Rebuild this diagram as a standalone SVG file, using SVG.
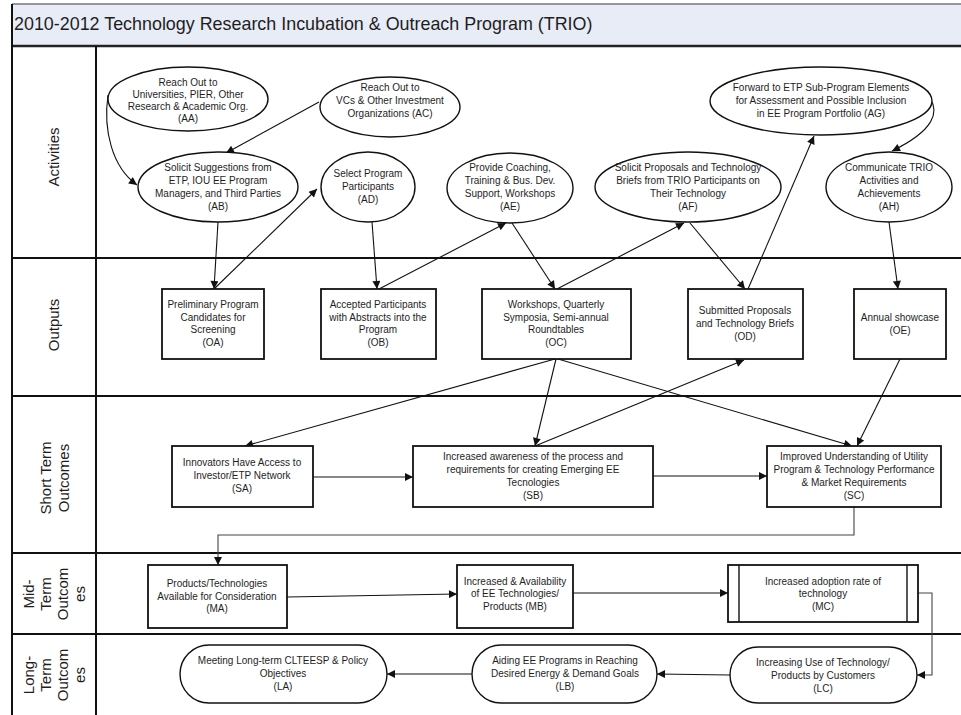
<svg xmlns="http://www.w3.org/2000/svg" width="961" height="715" viewBox="0 0 961 715">
<defs>
<style>
text{font-family:"Liberation Sans",Arial,sans-serif;fill:#1e1e1e;}
.t{font-size:10px;text-anchor:middle;}
.lane{font-size:15px;text-anchor:middle;dominant-baseline:central;}
.n{fill:#fff;stroke:#111;stroke-width:1.4;}
.b{fill:#fff;stroke:#111;stroke-width:1.8;}
.frame{stroke:#111;stroke-width:2;fill:none;}
.e{fill:none;stroke:#111;stroke-width:1.1;marker-end:url(#a);}
.g{fill:none;stroke:#444;stroke-width:1.1;marker-end:url(#a);}
</style>
<marker id="a" viewBox="0 0 10 10" refX="10" refY="5" markerWidth="11" markerHeight="8" markerUnits="userSpaceOnUse" orient="auto"><path d="M0,0 L10,5 L0,10 z" fill="#111"/></marker>
</defs>
<rect x="0" y="0" width="961" height="715" fill="#fff"/>
<g id="frame">
<rect x="12" y="4" width="960" height="42" fill="#e8ecf6"/>
<line x1="12" y1="4" x2="961" y2="4" stroke="#777" stroke-width="1.5"/>
<text x="14" y="30" style="font-size:17.9px">2010-2012 Technology Research Incubation &amp; Outreach Program (TRIO)</text>
<line x1="12" y1="46" x2="961" y2="46" stroke="#222" stroke-width="2.5"/>
<line class="frame" x1="12" y1="4" x2="12" y2="715"/>
<line class="frame" x1="96" y1="46" x2="96" y2="715"/>
<line class="frame" x1="12" y1="258" x2="961" y2="258"/>
<line class="frame" x1="12" y1="396" x2="961" y2="396"/>
<line class="frame" x1="12" y1="553" x2="961" y2="553"/>
<line class="frame" x1="12" y1="634" x2="961" y2="634"/>
<text class="lane" transform="translate(53,157) rotate(-90)">Activities</text>
<text class="lane" transform="translate(53,325) rotate(-90)">Outputs</text>
<text class="lane" transform="translate(45,478) rotate(-90)">Short Term</text>
<text class="lane" transform="translate(63,478) rotate(-90)">Outcomes</text>
<text class="lane" transform="translate(28,594) rotate(-90)">Mid-</text>
<text class="lane" transform="translate(45,594) rotate(-90)">Term</text>
<text class="lane" transform="translate(62,594) rotate(-90)">Outcom</text>
<text class="lane" transform="translate(79,594) rotate(-90)">es</text>
<text class="lane" transform="translate(28,675) rotate(-90)">Long-</text>
<text class="lane" transform="translate(45,675) rotate(-90)">Term</text>
<text class="lane" transform="translate(62,675) rotate(-90)">Outcom</text>
<text class="lane" transform="translate(79,675) rotate(-90)">es</text>
</g>
<g id="connectors">
<path class="e" d="M108,95 C103,130 112,167 137,185"/>
<path class="e" d="M319,102 L226,153"/>
<path class="e" d="M218,222 L214,289"/>
<path class="e" d="M214,289 L317,189"/>
<path class="e" d="M372,222 L377,289"/>
<path class="e" d="M379,289 L506,223"/>
<path class="e" d="M512,223 L555,289"/>
<path class="e" d="M557,289 L684,223"/>
<path class="e" d="M690,223 L745,289"/>
<path class="e" d="M748,289 L814,136"/>
<path class="e" d="M930,98 C939,112 935,130 892,151"/>
<path class="e" d="M889,222 L898,289"/>
<path class="e" d="M555,359 L245,446"/>
<path class="e" d="M556,359 L535,446"/>
<path class="e" d="M535,446 L744,360"/>
<path class="e" d="M558,359 L852,446"/>
<path class="e" d="M900,359 L857,446"/>
<path class="e" d="M313,477 L413,477"/>
<path class="e" d="M653,476 L767,476"/>
<path class="g" d="M854,507 L854,535 L218,535 L218,565"/>
<path class="e" d="M287,597 L457,594"/>
<path class="e" d="M573,593 L728,593"/>
<path class="g" d="M918,593 L932,593 L932,675 L917,675"/>
<path class="e" d="M730,675 L657,674"/>
<path class="e" d="M472,674 L387,674"/>
</g>
<g id="AA"><ellipse class="n" cx="188" cy="99" rx="80" ry="32"/>
<text class="t" x="188" y="86">Reach Out to</text><text class="t" x="188" y="98">Universities, PIER, Other</text><text class="t" x="188" y="110">Research &amp; Academic Org.</text><text class="t" x="188" y="122">(AA)</text></g>
<g id="AC"><ellipse class="n" cx="390" cy="107" rx="70" ry="30"/>
<text class="t" x="390" y="91">Reach Out to</text><text class="t" x="390" y="104">VCs &amp; Other Investment</text><text class="t" x="390" y="117">Organizations (AC)</text></g>
<g id="AB"><ellipse class="n" cx="218" cy="187" rx="80" ry="35"/>
<text class="t" x="218" y="171">Solicit Suggestions from</text><text class="t" x="218" y="184">ETP, IOU EE Program</text><text class="t" x="218" y="197">Managers, and Third Parties</text><text class="t" x="218" y="210">(AB)</text></g>
<g id="AD"><ellipse class="n" cx="368" cy="187" rx="47" ry="35"/>
<text class="t" x="368" y="177">Select Program</text><text class="t" x="368" y="190">Participants</text><text class="t" x="368" y="203">(AD)</text></g>
<g id="AE"><ellipse class="n" cx="510" cy="188" rx="63" ry="35"/>
<text class="t" x="510" y="171">Provide Coaching,</text><text class="t" x="510" y="184">Training &amp; Bus. Dev.</text><text class="t" x="510" y="197">Support, Workshops</text><text class="t" x="510" y="210">(AE)</text></g>
<g id="AF"><ellipse class="n" cx="688" cy="187" rx="93" ry="35"/>
<text class="t" x="688" y="171">Solicit Proposals and Technology</text><text class="t" x="688" y="184">Briefs from TRIO Participants on</text><text class="t" x="688" y="197">Their Technology</text><text class="t" x="688" y="210">(AF)</text></g>
<g id="AG"><ellipse class="n" cx="821" cy="101" rx="111" ry="34"/>
<text class="t" x="821" y="91">Forward to ETP Sub-Program Elements</text><text class="t" x="821" y="104">for Assessment and Possible Inclusion</text><text class="t" x="821" y="117">in EE Program Portfolio (AG)</text></g>
<g id="AH"><ellipse class="n" cx="889" cy="187" rx="63" ry="35"/>
<text class="t" x="889" y="171">Communicate TRIO</text><text class="t" x="889" y="184">Activities and</text><text class="t" x="889" y="197">Achievements</text><text class="t" x="889" y="210">(AH)</text></g>
<g id="OA"><rect class="b" x="162" y="289" width="102" height="70"/>
<text class="t" x="213" y="308">Preliminary Program</text><text class="t" x="213" y="321">Candidates for</text><text class="t" x="213" y="333">Screening</text><text class="t" x="213" y="346">(OA)</text></g>
<g id="OB"><rect class="b" x="321" y="289" width="115" height="70"/>
<text class="t" x="378" y="308">Accepted Participants</text><text class="t" x="378" y="321">with Abstracts into the</text><text class="t" x="378" y="333">Program</text><text class="t" x="378" y="346">(OB)</text></g>
<g id="OC"><rect class="b" x="482" y="289" width="149" height="70"/>
<text class="t" x="556" y="308">Workshops, Quarterly</text><text class="t" x="556" y="321">Symposia, Semi-annual</text><text class="t" x="556" y="333">Roundtables</text><text class="t" x="556" y="346">(OC)</text></g>
<g id="OD"><rect class="b" x="688" y="289" width="115" height="70"/>
<text class="t" x="745" y="314">Submitted Proposals</text><text class="t" x="745" y="327">and Technology Briefs</text><text class="t" x="745" y="340">(OD)</text></g>
<g id="OE"><rect class="b" x="854" y="289" width="92" height="70"/>
<text class="t" x="900" y="321">Annual showcase</text><text class="t" x="900" y="334">(OE)</text></g>
<g id="SA"><rect class="b" x="172" y="446" width="141" height="61"/>
<text class="t" x="242" y="466">Innovators Have Access to</text><text class="t" x="242" y="479">Investor/ETP Network</text><text class="t" x="242" y="492">(SA)</text></g>
<g id="SB"><rect class="b" x="413" y="446" width="240" height="61"/>
<text class="t" x="533" y="460">Increased awareness of the process and</text><text class="t" x="533" y="473">requirements for creating Emerging EE</text><text class="t" x="533" y="486">Tecnologies</text><text class="t" x="533" y="499">(SB)</text></g>
<g id="SC"><rect class="b" x="767" y="446" width="174" height="61"/>
<text class="t" x="854" y="460">Improved Understanding of Utility</text><text class="t" x="854" y="473">Program &amp; Technology Performance</text><text class="t" x="854" y="486">&amp; Market Requirements</text><text class="t" x="854" y="499">(SC)</text></g>
<g id="MA"><rect class="b" x="148" y="565" width="139" height="63"/>
<text class="t" x="217" y="587">Products/Technologies</text><text class="t" x="217" y="600">Available for Consideration</text><text class="t" x="217" y="612">(MA)</text></g>
<g id="MB"><rect class="b" x="457" y="565" width="116" height="63"/>
<text class="t" x="515" y="585">Increased &amp; Availability</text><text class="t" x="515" y="597">of EE Technologies/</text><text class="t" x="515" y="610">Products (MB)</text></g>
<g id="MC"><rect class="b" x="728" y="565" width="190" height="57"/>
<line x1="739" y1="565" x2="739" y2="622" stroke="#111" stroke-width="1.4"/><line x1="907" y1="565" x2="907" y2="622" stroke="#111" stroke-width="1.4"/>
<text class="t" x="823" y="585">Increased adoption rate of</text><text class="t" x="823" y="597">technology</text><text class="t" x="823" y="610">(MC)</text></g>
<g id="LA"><rect class="n" x="180" y="645" width="207" height="58" rx="29" ry="29"/>
<text class="t" x="283" y="664">Meeting Long-term CLTEESP &amp; Policy</text><text class="t" x="283" y="677">Objectives</text><text class="t" x="283" y="690">(LA)</text></g>
<g id="LB"><rect class="n" x="472" y="645" width="185" height="58" rx="29" ry="29"/>
<text class="t" x="565" y="664">Aiding EE Programs in Reaching</text><text class="t" x="565" y="677">Desired Energy &amp; Demand Goals</text><text class="t" x="565" y="690">(LB)</text></g>
<g id="LC"><rect class="n" x="730" y="647" width="187" height="56" rx="28" ry="28"/>
<text class="t" x="823" y="666">Increasing Use of Technology/</text><text class="t" x="823" y="679">Products by Customers</text><text class="t" x="823" y="692">(LC)</text></g>
</svg>
